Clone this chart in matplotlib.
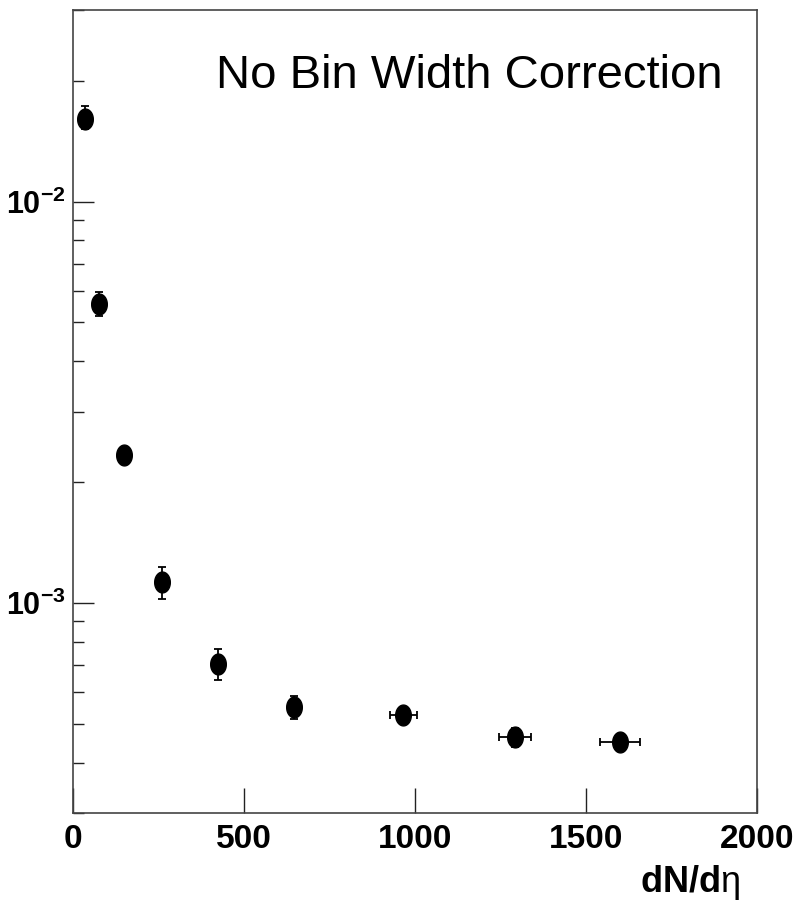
import numpy as np
import matplotlib
matplotlib.use("Agg")
import matplotlib.pyplot as plt
from matplotlib.path import Path
from matplotlib.ticker import FixedLocator, LogLocator, NullFormatter, FuncFormatter

# fonts: bold sans for the axis numbers, plain sans for the note
plt.rcParams['font.family'] = ['Liberation Sans', 'DejaVu Sans']
plt.rcParams['mathtext.fontset'] = 'custom'
plt.rcParams['mathtext.rm'] = 'Liberation Sans'
plt.rcParams['mathtext.bf'] = 'Liberation Sans:bold'
plt.rcParams['mathtext.it'] = 'Liberation Sans:italic'

# multiplicity bins and measured values
dndeta = np.array([35, 76, 149, 259, 425, 646, 966, 1292, 1599])
dndeta_err = np.array([0, 0, 0, 0, 0, 0, 39, 47, 58])
prob = np.array([0.0161, 0.00557, 0.00234, 0.00113, 0.000704,
                 0.000551, 0.000526, 0.000463, 0.000451])
prob_err_lo = np.array([0.00097, 0.00039, 0.00004, 0.000109, 0.000061,
                        0.000038, 0.00002, 0.000025, 0.00002])
prob_err_hi = np.array([0.00116, 0.00039, 0.00004, 0.000102, 0.000063,
                        0.000037, 0.00002, 0.000025, 0.00002])

xticks = [0, 500, 1000, 1500, 2000]
note = 'No Bin Width Correction'

# slightly tall ellipse used as the marker
t = np.linspace(0, 2 * np.pi, 60)
verts = np.column_stack([0.75 * np.cos(t), np.sin(t)])
ellipse = Path(verts, closed=True)

fig = plt.figure(figsize=(7.95, 9.19), dpi=100)
ax = fig.add_axes([0.0918, 0.1153, 0.9522 - 0.0918, 0.9891 - 0.1153])

ax.errorbar(dndeta, prob, xerr=dndeta_err, yerr=[prob_err_lo, prob_err_hi],
            fmt='none', ecolor='black', elinewidth=1.3, capsize=3, capthick=1.3)
ax.plot(dndeta, prob, linestyle='none', marker=ellipse, markersize=15,
        color='black')

ax.set_yscale('log')
ax.set_xlim(0, 2000)
ax.set_ylim(3e-4, 3e-2)

ax.xaxis.set_major_locator(FixedLocator(xticks))
ax.yaxis.set_major_locator(LogLocator(base=10))
ax.yaxis.set_minor_locator(LogLocator(base=10, subs=np.arange(2, 10)))
ax.yaxis.set_minor_formatter(NullFormatter())
ax.yaxis.set_major_formatter(FuncFormatter(
    lambda v, p: r'$\mathbf{10^{-%d}}$' % abs(int(round(np.log10(v))))))
ax.xaxis.set_major_formatter(FuncFormatter(lambda v, p: '%d' % v))

ax.tick_params(axis='x', which='major', direction='in', length=18, width=1,
               pad=8, labelsize=24, color='#222222')
ax.tick_params(axis='y', which='major', direction='in', length=15, width=1,
               pad=5, labelsize=22, color='#222222')
ax.tick_params(axis='y', which='minor', direction='in', length=8, width=1,
               color='#222222')
for lab in ax.get_xticklabels():
    lab.set_fontweight('bold')

for sp in ax.spines.values():
    sp.set_linewidth(1.2)
    sp.set_color('#444444')

ax.set_xlabel(r'$\mathbf{dN/d}\mathrm{\eta}$', fontsize=26, loc='right',
              labelpad=6)
ax.xaxis.label.set_x(0.975)

ax.text(0.95, 0.918, note, transform=ax.transAxes, ha='right', va='center',
        fontsize=34)

fig.savefig('out.png', dpi=100)
